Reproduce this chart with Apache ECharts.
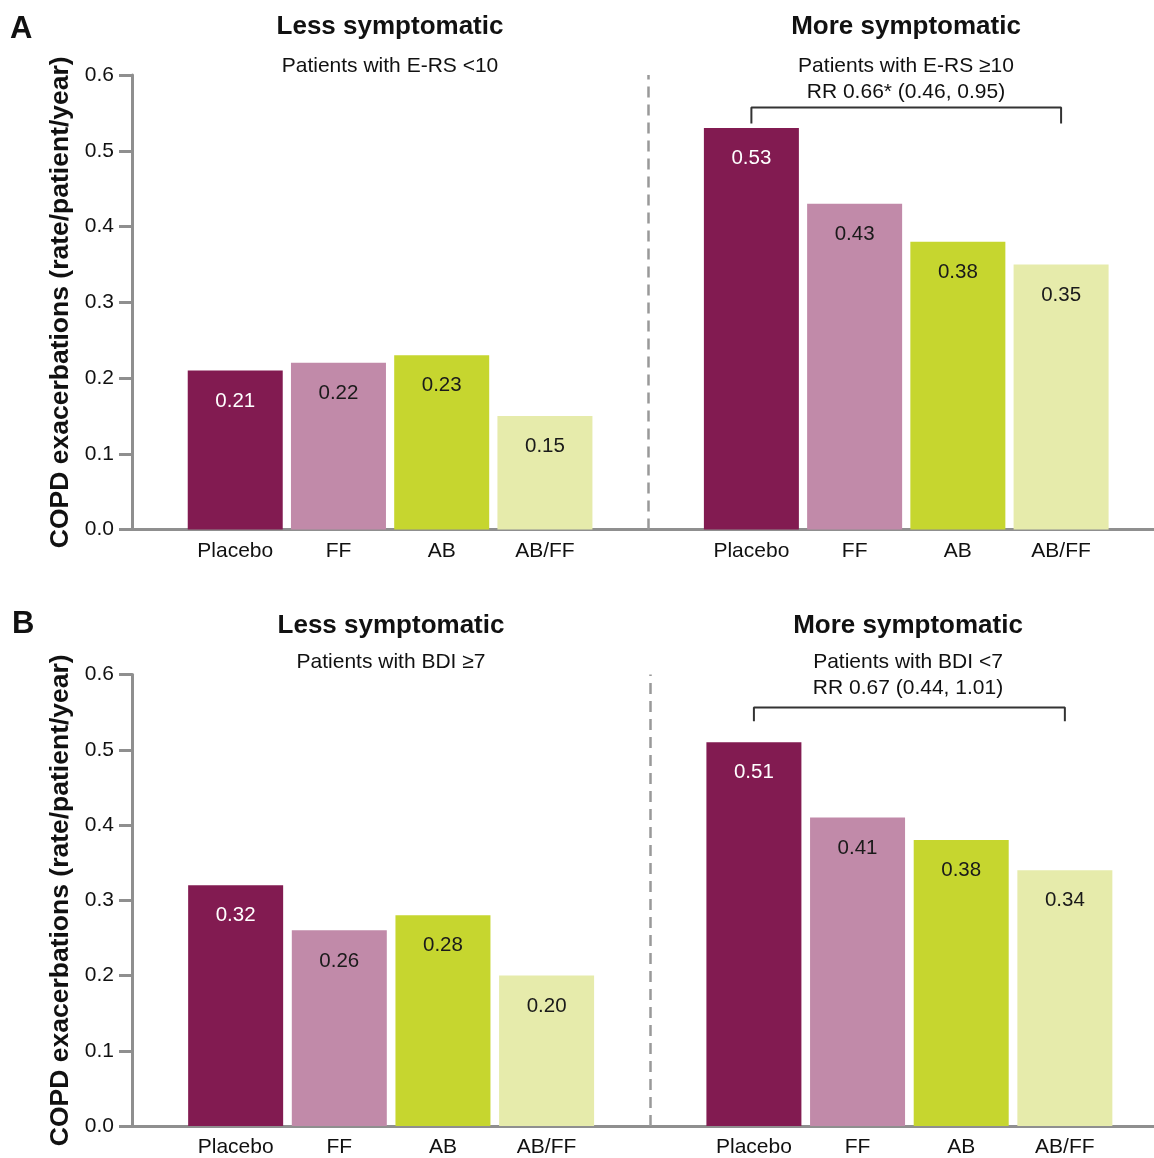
<!DOCTYPE html>
<html>
<head>
<meta charset="utf-8">
<script src="https://cdn.jsdelivr.net/npm/echarts@6/dist/echarts.min.js"></script>
<style>
html,body{margin:0;padding:0;background:#fff;overflow:hidden;}
#chart{width:1154px;height:1158px;}
</style>
</head>
<body>
<div id="chart"></div>
<script>
// ---- data ----
const treatments = ['Placebo', 'FF', 'AB', 'AB/FF'];
const treatmentColors = ['#821b51', '#c18aa9', '#c6d62f', '#e6ebab'];
const labelColors = ['#ffffff', '#1a1a1a', '#1a1a1a', '#1a1a1a'];
const yTicks = [0, 0.1, 0.2, 0.3, 0.4, 0.5, 0.6];

const panelALess = [0.21, 0.22, 0.23, 0.15];
const panelAMore = [0.53, 0.43, 0.38, 0.35];
const panelBLess = [0.32, 0.26, 0.28, 0.20];
const panelBMore = [0.51, 0.41, 0.38, 0.34];

const panelLetters = ['A', 'B'];
const groupTitles = ['Less symptomatic', 'More symptomatic'];
const panelASubtitles = [['Patients with E-RS <10'], ['Patients with E-RS \u226510', 'RR 0.66* (0.46, 0.95)']];
const panelBSubtitles = [['Patients with BDI \u22657'], ['Patients with BDI <7', 'RR 0.67 (0.44, 1.01)']];
const yAxisName = 'COPD exacerbations (rate/patient/year)';

// bracket (comparison Placebo vs AB/FF in "more symptomatic" group): [x index, y value]
const bracketA = [[5, 0.536], [5, 0.557], [8, 0.557], [8, 0.536]];
const bracketB = [[5, 0.538], [5, 0.556], [8, 0.556], [8, 0.538]];

// ---- build ----
const FONT = "'Liberation Sans', Arial, Helvetica, sans-serif";
const xLabels = treatments.concat([''], treatments); // index 0..8, 4 is the divider
const DIVIDER = 4;

function barData(less, more) {
  const out = [];
  less.forEach((v, i) => out.push({
    value: [i, v],
    itemStyle: { color: treatmentColors[i] },
    label: { color: labelColors[i] }
  }));
  more.forEach((v, i) => out.push({
    value: [i + DIVIDER + 1, v],
    itemStyle: { color: treatmentColors[i] },
    label: { color: labelColors[i] }
  }));
  return out;
}

const AXIS_GRAY = '#8f8f8f';
const grids = [
  { left: 132, right: 0, top: 75, height: 454.5 },
  { left: 132, right: 0, top: 674.5, height: 455 }
];
const xMax = [8.9, 8.86];

const xAxes = grids.map((g, i) => ({
  type: 'value', gridIndex: i, min: -1, max: xMax[i], interval: 1,
  axisLine: { show: true, onZero: false, lineStyle: { color: AXIS_GRAY, width: 3 } },
  axisTick: { show: false },
  splitLine: { show: false },
  axisLabel: {
    show: true, margin: 11, fontSize: 21, color: '#111', fontFamily: FONT,
    showMaxLabel: false, showMinLabel: false,
    formatter: v => (Number.isInteger(v) && v >= 0 && v < xLabels.length) ? xLabels[v] : ''
  }
}));

const yAxes = grids.map((g, i) => ({
  type: 'value', gridIndex: i, min: yTicks[0], max: yTicks[yTicks.length - 1], interval: 0.1,
  name: yAxisName, nameLocation: 'middle', nameGap: 58,
  nameTextStyle: { fontSize: 26.5, fontWeight: 'bold', color: '#111', fontFamily: FONT },
  axisLine: { show: true, onZero: false, lineStyle: { color: AXIS_GRAY, width: 3 } },
  axisTick: { show: true, length: 13, lineStyle: { color: AXIS_GRAY, width: 3 } },
  splitLine: { show: false },
  axisLabel: { margin: 18, fontSize: 21, color: '#111', fontFamily: FONT, formatter: v => v.toFixed(1) }
}));

function barSeries(idx, less, more) {
  return {
    type: 'bar', xAxisIndex: idx, yAxisIndex: idx, barWidth: 95,
    data: barData(less, more),
    label: {
      show: true, position: 'insideTop', distance: 20, fontSize: 20.5, fontFamily: FONT,
      formatter: p => p.value[1].toFixed(2)
    },
    markLine: {
      silent: true, symbol: ['none', 'none'], label: { show: false },
      lineStyle: { color: '#999999', type: [11, 7], width: 2.5 },
      data: [{ xAxis: DIVIDER }]
    },
    animation: false
  };
}

function bracketSeries(idx, pts) {
  return {
    type: 'line', xAxisIndex: idx, yAxisIndex: idx, data: pts,
    symbol: 'none', lineStyle: { color: '#333', width: 2 }, silent: true, animation: false
  };
}

const leftCenter = 390, rightCenter = 907;
const graphics = [];
function addText(text, x, y, size, bold) {
  graphics.push({
    type: 'text', x: x, y: y,
    style: {
      text: text, x: 0, y: 0, fill: '#111', align: 'center', verticalAlign: 'middle',
      font: (bold ? 'bold ' : '') + size + 'px ' + FONT
    }
  });
}
function addLetter(text, x, y) {
  graphics.push({
    type: 'text', x: x, y: y,
    style: { text: text, fill: '#111', align: 'left', verticalAlign: 'middle', font: 'bold 31px ' + FONT }
  });
}

addLetter(panelLetters[0], 10, 29);
addLetter(panelLetters[1], 12, 624);
addText(groupTitles[0], leftCenter, 27, 26, true);
addText(groupTitles[1], rightCenter - 1, 27, 26, true);
addText(groupTitles[0], leftCenter + 1, 626, 26, true);
addText(groupTitles[1], rightCenter + 1, 626, 26, true);
panelASubtitles[0].forEach((t, i) => addText(t, leftCenter, 66 + i * 26, 21, false));
panelASubtitles[1].forEach((t, i) => addText(t, rightCenter - 1, 66 + i * 26, 21, false));
panelBSubtitles[0].forEach((t, i) => addText(t, leftCenter + 1, 662 + i * 26, 21, false));
panelBSubtitles[1].forEach((t, i) => addText(t, rightCenter + 1, 662 + i * 26, 21, false));

const chart = echarts.init(document.getElementById('chart'), null, { renderer: 'canvas' });
chart.setOption({
  backgroundColor: '#ffffff',
  animation: false,
  textStyle: { fontFamily: FONT },
  grid: grids,
  xAxis: xAxes,
  yAxis: yAxes,
  series: [
    barSeries(0, panelALess, panelAMore),
    barSeries(1, panelBLess, panelBMore),
    bracketSeries(0, bracketA),
    bracketSeries(1, bracketB)
  ],
  graphic: graphics
});
</script>
</body>
</html>
